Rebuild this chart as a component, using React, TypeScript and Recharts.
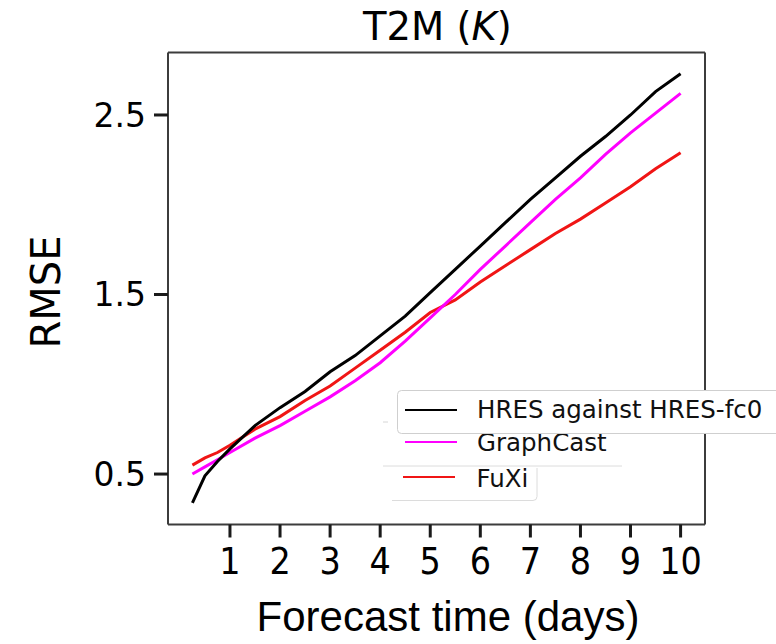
import React from 'react';
import { LineChart, Line, XAxis, YAxis, Legend } from 'recharts';

const days = [0.25, 0.5, 0.75, 1, 1.5, 2, 2.5, 3, 3.5, 4, 4.5, 5, 5.5, 6, 6.5, 7, 7.5, 8, 8.5, 9, 9.5, 10];
const hresValues = [0.34, 0.49, 0.57, 0.64, 0.77, 0.87, 0.96, 1.07, 1.16, 1.27, 1.38, 1.51, 1.64, 1.77, 1.9, 2.03, 2.15, 2.27, 2.38, 2.5, 2.63, 2.73];
const graphcastValues = [0.5, 0.54, 0.58, 0.62, 0.7, 0.77, 0.85, 0.93, 1.02, 1.12, 1.24, 1.37, 1.5, 1.64, 1.77, 1.9, 2.03, 2.15, 2.28, 2.4, 2.51, 2.62];
const fuxiValues = [0.55, 0.59, 0.62, 0.66, 0.75, 0.82, 0.91, 0.99, 1.09, 1.19, 1.29, 1.4, 1.47, 1.57, 1.66, 1.75, 1.84, 1.92, 2.01, 2.1, 2.2, 2.29];

const xTicks = [1, 2, 3, 4, 5, 6, 7, 8, 9, 10];
const yTicks = [0.5, 1.5, 2.5];
const xDomain: [number, number] = [-0.2375, 10.4875];
const yDomain: [number, number] = [0.219, 2.848];

const seriesNames = ['HRES against HRES-fc0', 'GraphCast', 'FuXi'];
const seriesColors = ['#000000', '#ff00ff', '#f01515'];

const data = days.map((d, i) => ({
  day: d,
  hres: hresValues[i],
  graphcast: graphcastValues[i],
  fuxi: fuxiValues[i],
}));

const FONT = 'DejaVu Sans';
const frameColor = '#3c3c3c';

const renderTitle = () => (
  <text x={363} y={40} fontFamily={FONT} fontSize={38.5} fill="#000">
    T2M (<tspan fontStyle="italic">K</tspan>)
  </text>
);

const renderXLabel = () => (
  <text x={448} y={631} fontFamily="Liberation Sans, Arial" fontSize={42} fill="#000" textAnchor="middle">
    Forecast time (days)
  </text>
);

const renderYLabel = () => (
  <text x={60} y={292} fontFamily={FONT} fontSize={40} fill="#000" textAnchor="middle" transform="rotate(-90, 60, 292)">
    RMSE
  </text>
);

const XTick = (props: any) => {
  const { x, y, payload } = props;
  return (
    <text
      transform={`translate(${x}, ${y}) scale(1, 1.12)`}
      x={0}
      y={0}
      dy="0.71em"
      textAnchor="middle"
      fontFamily={FONT}
      fontSize={33.5}
      fill="#000"
    >
      {payload.value}
    </text>
  );
};

const renderLegend = () => {
  const txt = { fontFamily: FONT, fontSize: 24.5, fill: '#111' } as const;
  return (
    <svg width={393} height={125} style={{ display: 'block', overflow: 'hidden' }}>
      <line x1={0} x2={5} y1={42} y2={42} stroke="#d6d6d6" strokeWidth={1} />
      <line x1={22} x2={74} y1={62} y2={62} stroke={seriesColors[1]} strokeWidth={2} />
      <text x={94} y={71} {...txt}>{seriesNames[1]}</text>
      <line x1={0} x2={239} y1={86} y2={86} stroke="#dcdcdc" strokeWidth={1} />
      <line x1={20} x2={72} y1={97} y2={97} stroke={seriesColors[2]} strokeWidth={2} />
      <text x={93.5} y={107} {...txt}>{seriesNames[2]}</text>
      <path d="M 9 120.5 L 150 120.5 Q 154 120.5 154 116.5 L 154 88" fill="none" stroke="#dcdcdc" strokeWidth={1} />
      <rect x={14.5} y={10.5} width={420} height={43} rx={4} ry={4} fill="#fff" stroke="#cfcfcf" strokeWidth={1} />
      <line x1={22} x2={74} y1={30} y2={30} stroke={seriesColors[0]} strokeWidth={2} />
      <text x={94} y={38} {...txt}>{seriesNames[0]}</text>
    </svg>
  );
};

export default function App() {
  return (
    <div style={{ position: 'absolute', left: 0, top: 0, width: 776, height: 644, background: '#fff' }}>
      <LineChart
        width={776}
        height={644}
        data={data}
        margin={{ top: 51.5, right: 70, bottom: 39.5, left: 68 }}
      >
        <XAxis
          dataKey="day"
          type="number"
          domain={xDomain}
          ticks={xTicks}
          allowDataOverflow
          height={80}
          tickSize={13}
          tickMargin={9.5}
          interval={0}
          axisLine={{ stroke: frameColor, strokeWidth: 2 }}
          tickLine={{ stroke: '#1a1a1a', strokeWidth: 3 }}
          tick={<XTick />}
          label={{ content: renderXLabel }}
        />
        <XAxis
          xAxisId="top"
          orientation="top"
          dataKey="day"
          type="number"
          domain={xDomain}
          allowDataOverflow
          height={1}
          tick={false}
          tickLine={false}
          axisLine={{ stroke: frameColor, strokeWidth: 2 }}
          label={{ content: renderTitle }}
        />
        <YAxis
          type="number"
          domain={yDomain}
          ticks={yTicks}
          allowDataOverflow
          width={100}
          tickSize={14}
          tickMargin={8}
          interval={0}
          tickFormatter={(v: number) => v.toFixed(1)}
          axisLine={{ stroke: frameColor, strokeWidth: 2 }}
          tickLine={{ stroke: '#1a1a1a', strokeWidth: 3 }}
          tick={{ fill: '#000', fontSize: 33, fontFamily: FONT }}
          label={{ content: renderYLabel }}
        />
        <YAxis
          yAxisId="right"
          orientation="right"
          type="number"
          domain={yDomain}
          allowDataOverflow
          width={1}
          tick={false}
          tickLine={false}
          axisLine={{ stroke: frameColor, strokeWidth: 2 }}
        />
        <Legend
          verticalAlign="middle"
          align="center"
          layout="horizontal"
          content={renderLegend}
          wrapperStyle={{ position: 'absolute', left: 383, top: 380, width: 393, height: 125 }}
        />
        <Line type="linear" dataKey="fuxi" name={seriesNames[2]} stroke={seriesColors[2]} strokeWidth={3} dot={false} isAnimationActive={false} />
        <Line type="linear" dataKey="graphcast" name={seriesNames[1]} stroke={seriesColors[1]} strokeWidth={3} dot={false} isAnimationActive={false} />
        <Line type="linear" dataKey="hres" name={seriesNames[0]} stroke={seriesColors[0]} strokeWidth={3} dot={false} isAnimationActive={false} />
      </LineChart>
    </div>
  );
}
